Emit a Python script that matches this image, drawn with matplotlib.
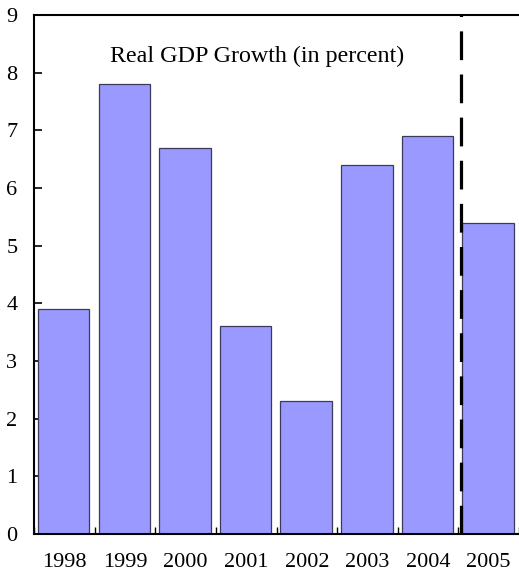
import matplotlib
matplotlib.use("Agg")
import matplotlib.pyplot as plt
import numpy as np

years = ["1998", "1999", "2000", "2001", "2002", "2003", "2004", "2005"]
growth = [3.9, 7.8, 6.7, 3.6, 2.3, 6.4, 6.9, 5.4]
yticks = [0, 1, 2, 3, 4, 5, 6, 7, 8, 9]
title_text = "Real GDP Growth (in percent)"
projection_split = 6.55

plt.rcParams['font.family'] = ['Liberation Serif', 'DejaVu Serif']

fig = plt.figure(figsize=(5.19, 5.75), dpi=100)
ax = fig.add_axes([34/519, 41/575, 485/519, 519/575])

x = np.arange(len(years))
ax.bar(x - 0.01, growth, width=0.85, color='#9999FF', edgecolor='#3a3a5a', linewidth=0.9, zorder=2)

ax.axvline(projection_split, color='black', linewidth=2.3, dashes=(9, 4.5), zorder=3)

ax.set_xlim(-0.5, len(years) - 0.5)
ax.set_ylim(0, 9)
ax.set_yticks(yticks)
ax.set_yticklabels([str(v) for v in yticks])
ax.set_xticks(x)
ax.set_xticklabels(years)
ax.set_xticks(np.arange(len(years) + 1) - 0.5, minor=True)

ax.tick_params(axis='y', direction='in', length=6, width=1.2, pad=12, labelsize=16)
ax.tick_params(axis='x', which='major', length=0, pad=14, labelsize=16)
ax.tick_params(axis='x', which='minor', direction='in', length=5, width=1)

for s in ['left', 'top', 'bottom']:
    ax.spines[s].set_linewidth(1.5)
    ax.spines[s].set_color('black')
ax.spines['right'].set_visible(False)

ax.text(0.46, 0.92, title_text, transform=ax.transAxes, ha='center', va='center', fontsize=17.3)

fig.savefig("out.png", dpi=100)
